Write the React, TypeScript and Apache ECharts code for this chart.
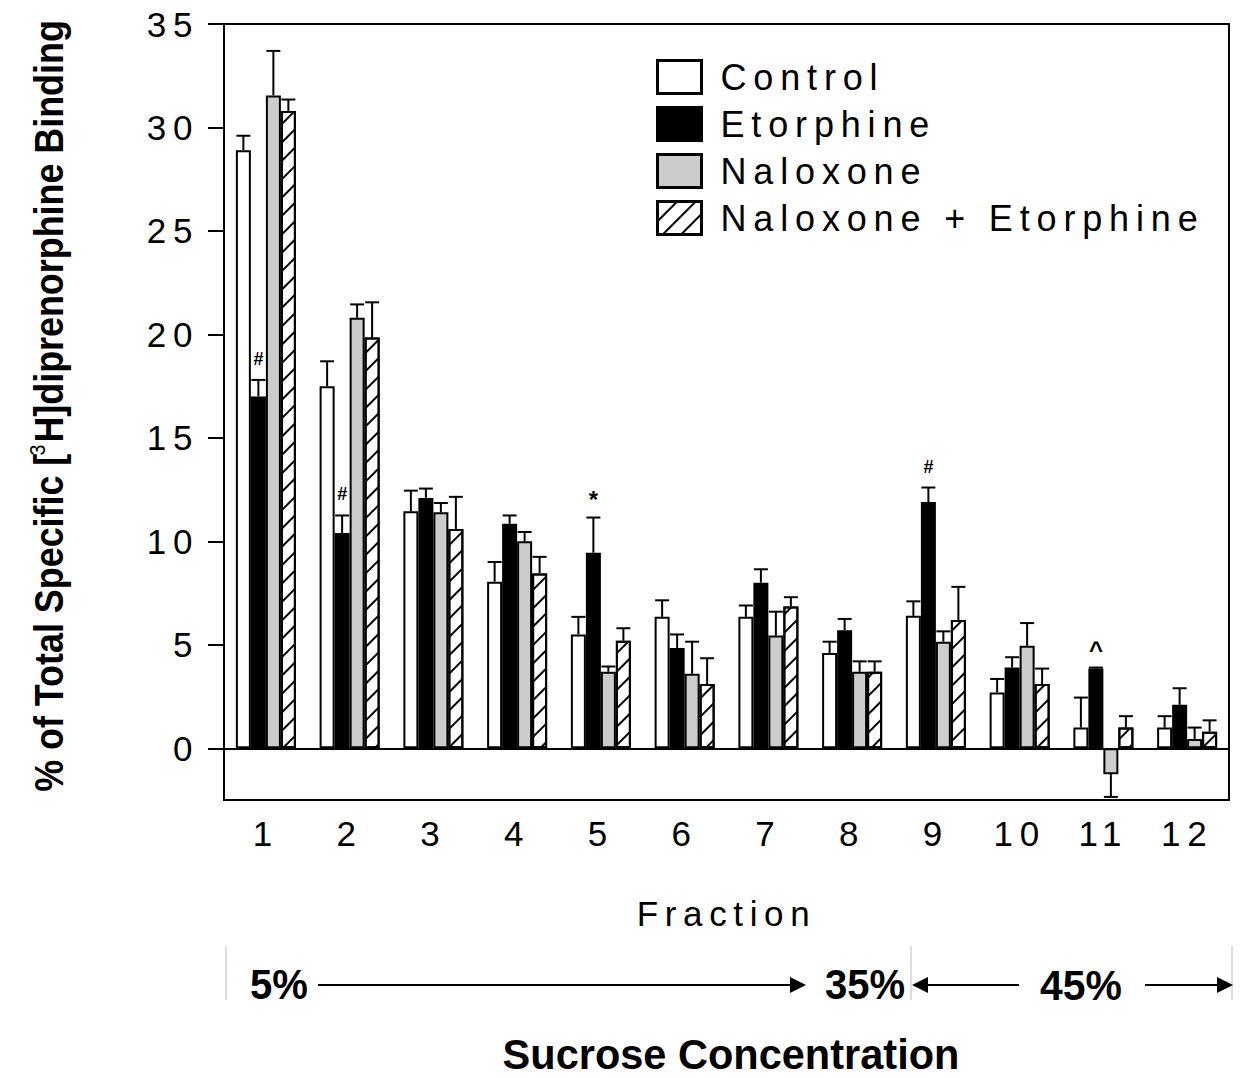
import React, { useEffect, useRef } from 'react';
import * as echarts from 'echarts';

const fractions = ['1', '2', '3', '4', '5', '6', '7', '8', '9', '10', '11', '12'];
const seriesNames = ['Control', 'Etorphine', 'Naloxone', 'Naloxone + Etorphine'];
const control = [28.9, 17.5, 11.45, 8.05, 5.5, 6.35, 6.35, 4.6, 6.4, 2.7, 1.0, 1.0];
const controlErr = [0.7, 1.2, 1.0, 0.95, 0.85, 0.8, 0.55, 0.55, 0.7, 0.65, 1.45, 0.55];
const etorphine = [17.0, 10.4, 12.1, 10.85, 9.45, 4.85, 8.0, 5.7, 11.9, 3.9, 3.85, 2.1];
const etorphineErr = [0.8, 0.85, 0.45, 0.4, 1.7, 0.65, 0.65, 0.55, 0.7, 0.5, 0.05, 0.8];
const naloxone = [31.55, 20.8, 11.4, 10.0, 3.7, 3.6, 5.45, 3.7, 5.15, 4.95, -1.25, 0.45];
const naloxoneErr = [2.15, 0.65, 0.45, 0.45, 0.25, 1.55, 1.15, 0.5, 0.5, 1.1, 1.1, 0.55];
const combo = [30.8, 19.85, 10.6, 8.45, 5.2, 3.1, 6.85, 3.7, 6.2, 3.1, 1.0, 0.8];
const comboErr = [0.55, 1.7, 1.55, 0.8, 0.6, 1.25, 0.45, 0.5, 1.6, 0.75, 0.55, 0.55];
const yTicks = [0, 5, 10, 15, 20, 25, 30, 35];
const annotCats = [0, 1, 4, 8, 10];
const annotSeries = [1, 1, 1, 1, 1];
const annotMarks = ['#', '#', '*', '#', '^'];

const REG = "'Liberation Sans', Arial, sans-serif";
const BAR_W = 15;

function measure(text: string, font: string): number {
  const c = document.createElement('canvas');
  const ctx = c.getContext('2d')!;
  ctx.font = font;
  return ctx.measureText(text).width;
}

export default function App() {
  const ref = useRef<HTMLDivElement>(null);
  useEffect(() => {
    const el = ref.current!;
    const chart = echarts.init(el, undefined, { renderer: 'svg' });
    const values = [control, etorphine, naloxone, combo];
    const errs = [controlErr, etorphineErr, naloxoneErr, comboErr];
    const fills = ['#ffffff', '#000000', '#cccccc', '#ffffff'];

    const errData: number[][] = [];
    values.forEach((arr, s) => arr.forEach((v, c) => errData.push([c, s, v, errs[s][c]])));
    const annotData = annotCats.map((c, i) => {
      const s = annotSeries[i];
      const v = values[s][c];
      return [c, s, v >= 0 ? v + errs[s][c] : v];
    });

    const hatch = {
      symbol: 'rect',
      symbolSize: 1,
      color: '#000',
      backgroundColor: '#fff',
      dashArrayX: [1, 0],
      dashArrayY: [1.6, 11],
      rotation: -Math.PI / 4,
    };

    const barSeries = seriesNames.map((name, s) => ({
      name,
      type: 'bar',
      data: values[s],
      barWidth: BAR_W,
      barGap: '0%',
      itemStyle: {
        color: fills[s],
        borderColor: '#000',
        borderWidth: 2,
        ...(s === 3 ? { decal: hatch } : {}),
      },
      ...(s === 0
        ? {
            markLine: {
              silent: true,
              symbol: 'none',
              label: { show: false },
              lineStyle: { color: '#000', width: 2, type: 'solid' },
              data: [{ yAxis: 0 }],
              z: 5,
            },
          }
        : {}),
    }));

    // y label with superscript
    const yFont = 40;
    const supFont = 22;
    const p1 = '% of Total Specific [';
    const p2 = 'H]diprenorphine Binding';
    const yW =
      measure(p1, `bold ${yFont}px ${REG}`) +
      measure('3', `${supFont}px ${REG}`) +
      measure(p2, `bold ${yFont}px ${REG}`);
    const yScale = 772 / yW;

    const bFont = 42;
    const bold = `bold ${bFont}px ${REG}`;
    const fitText = (t: string, w: number) => w / measure(t, bold);

    const boldText = (t: string, cx: number, cy: number, w: number) => ({
      type: 'text',
      x: cx,
      y: cy,
      scaleX: fitText(t, w),
      style: {
        text: t,
        font: bold,
        fill: '#000',
        align: 'center',
        verticalAlign: 'middle',
      },
    });

    const arrowY = 985;
    const lineStyle = { stroke: '#000', lineWidth: 2 };
    const graphics: any[] = [
      {
        type: 'text',
        x: 49,
        y: 406,
        rotation: Math.PI / 2,
        scaleX: yScale,
        style: {
          text: `{a|${p1}}{s|3}{a|${p2}}`,
          fill: '#000',
          align: 'center',
          verticalAlign: 'middle',
          rich: {
            a: { fontSize: yFont, fontWeight: 'bold', fontFamily: REG, fill: '#000', lineHeight: 46 },
            s: { fontSize: supFont, fontFamily: REG, fill: '#000', verticalAlign: 'top', lineHeight: 46 },
          },
        },
      },
      // separators
      { type: 'line', shape: { x1: 226, y1: 946, x2: 226, y2: 1000 }, style: { stroke: '#bbb', lineWidth: 1 } },
      { type: 'line', shape: { x1: 911, y1: 946, x2: 911, y2: 1000 }, style: { stroke: '#bbb', lineWidth: 1 } },
      { type: 'line', shape: { x1: 1232, y1: 946, x2: 1232, y2: 1000 }, style: { stroke: '#bbb', lineWidth: 1 } },
      // arrows
      { type: 'line', shape: { x1: 318, y1: arrowY, x2: 795, y2: arrowY }, style: lineStyle },
      { type: 'polygon', shape: { points: [[790, arrowY - 8], [806, arrowY], [790, arrowY + 8]] }, style: { fill: '#000' } },
      { type: 'line', shape: { x1: 922, y1: arrowY, x2: 1019, y2: arrowY }, style: lineStyle },
      { type: 'polygon', shape: { points: [[928, arrowY - 8], [912, arrowY], [928, arrowY + 8]] }, style: { fill: '#000' } },
      { type: 'line', shape: { x1: 1145, y1: arrowY, x2: 1222, y2: arrowY }, style: lineStyle },
      { type: 'polygon', shape: { points: [[1217, arrowY - 8], [1233, arrowY], [1217, arrowY + 8]] }, style: { fill: '#000' } },
      boldText('5%', 279, arrowY, 58),
      boldText('35%', 865, arrowY, 80),
      boldText('45%', 1081, arrowY, 82),
      boldText('Sucrose Concentration', 731, 1054, 457),
    ];

    chart.setOption({
      animation: false,
      backgroundColor: '#fff',
      grid: {
        left: 224,
        top: 24,
        width: 1005,
        height: 776,
        show: true,
        borderColor: '#000',
        borderWidth: 2,
        backgroundColor: 'transparent',
      },
      legend: {
        data: seriesNames,
        orient: 'vertical',
        left: 656,
        top: 59,
        itemWidth: 44,
        itemHeight: 33,
        itemGap: 11,
        padding: 0,
        icon: 'rect',
        selectedMode: false,
        itemStyle: { borderColor: '#000', borderWidth: 3 },
        textStyle: { fontSize: 36, fontFamily: REG, color: '#000', lineHeight: 34, padding: [0, 0, 0, 14] },
      },
      xAxis: {
        type: 'category',
        data: fractions,
        boundaryGap: true,
        axisLine: { onZero: false, lineStyle: { color: '#000', width: 2 } },
        axisTick: { show: false },
        axisLabel: { fontSize: 35, fontFamily: REG, color: '#000', margin: 16 },
        name: 'Fraction',
        nameLocation: 'middle',
        nameGap: 96,
        nameTextStyle: { fontSize: 35, fontFamily: REG, color: '#000' },
      },
      yAxis: {
        type: 'value',
        min: -2.5,
        max: 35,
        splitLine: { show: false },
        axisLine: { show: true, lineStyle: { color: '#000', width: 2 } },
        axisTick: { show: true, length: 16, customValues: yTicks, lineStyle: { color: '#000', width: 2 } },
        axisLabel: { customValues: yTicks, fontSize: 35, fontFamily: REG, color: '#000', margin: 25 },
      },
      series: [
        ...barSeries,
        {
          type: 'custom',
          name: 'errors',
          data: errData,
          encode: { x: 0, y: 2 },
          z: 4,
          silent: true,
          renderItem: (params: any, api: any) => {
            const c = api.value(0);
            const s = api.value(1);
            const v = api.value(2);
            const e = api.value(3);
            const base = api.coord([c, v]);
            const end = api.coord([c, v >= 0 ? v + e : v - e]);
            const x = base[0] + (s - 1.5) * BAR_W;
            return {
              type: 'group',
              children: [
                { type: 'line', shape: { x1: x, y1: base[1], x2: x, y2: end[1] }, style: { stroke: '#000', lineWidth: 2 } },
                { type: 'line', shape: { x1: x - 7, y1: end[1], x2: x + 7, y2: end[1] }, style: { stroke: '#000', lineWidth: 2 } },
              ],
            };
          },
        },
        {
          type: 'custom',
          name: 'annotations',
          data: annotData,
          encode: { x: 0, y: 2 },
          z: 4,
          silent: true,
          renderItem: (params: any, api: any) => {
            const c = api.value(0);
            const s = api.value(1);
            const top = api.value(2);
            const p = api.coord([c, top]);
            const mark = annotMarks[params.dataIndex];
            const big = mark === '*' || mark === '^';
            return {
              type: 'text',
              x: p[0] + (s - 1.5) * BAR_W,
              y: p[1] - (mark === '#' ? 12 : 6),
              style: {
                text: mark,
                font: `bold ${big ? 24 : 18}px ${REG}`,
                fill: '#000',
                align: 'center',
                verticalAlign: 'bottom',
              },
            };
          },
        },
      ],
      graphic: graphics,
    });

    const spaceOut = () => {
      el.querySelectorAll('text').forEach((t) => {
        const cs = getComputedStyle(t as Element);
        const w = parseInt(cs.fontWeight || '400', 10);
        if (!(w >= 600 || cs.fontWeight === 'bold')) {
          (t as SVGTextElement).style.letterSpacing = '0.19em';
        }
      });
    };
    spaceOut();
    const tm = setTimeout(spaceOut, 50);

    return () => {
      clearTimeout(tm);
      chart.dispose();
    };
  }, []);

  return <div ref={ref} style={{ position: 'absolute', left: 0, top: 0, width: 1243, height: 1078 }} />;
}
